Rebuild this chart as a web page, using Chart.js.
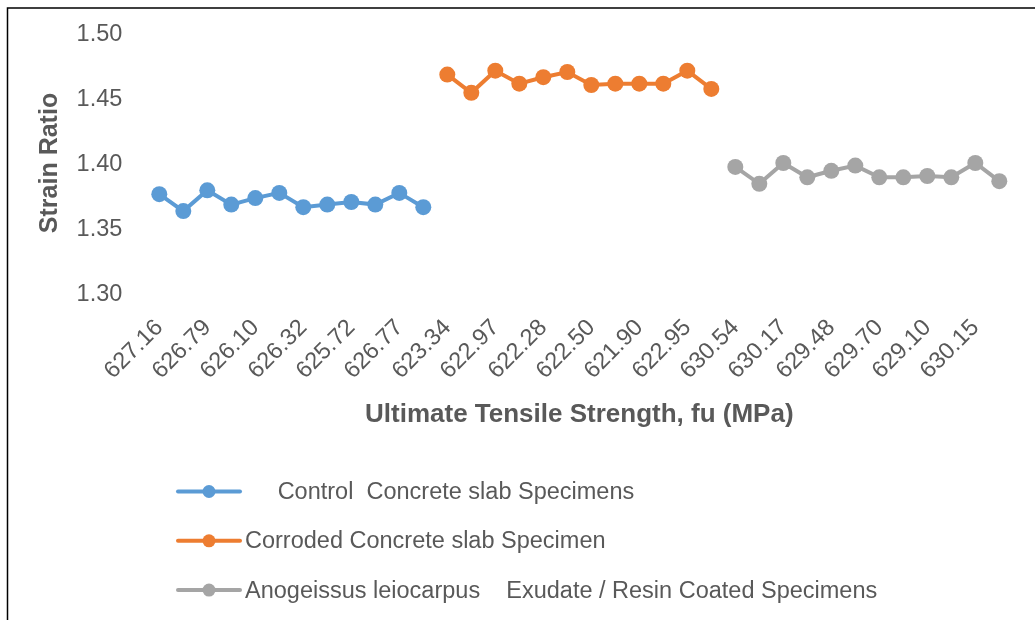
<!DOCTYPE html>
<html>
<head>
<meta charset="utf-8">
<script src="https://cdn.jsdelivr.net/npm/chart.js@4.4.1/dist/chart.umd.min.js"></script>
<style>
  html, body { margin: 0; padding: 0; background: #ffffff; }
  #wrap { position: relative; width: 1035px; height: 620px; }
  canvas { display: block; }
</style>
</head>
<body>
<div id="wrap"><canvas id="c" width="1035" height="620"></canvas></div>
<script>
// ---- Data ----
const tickLabels = ['627.16', '626.79', '626.10', '626.32', '625.72', '626.77',
                    '623.34', '622.97', '622.28', '622.50', '621.90', '622.95',
                    '630.54', '630.17', '629.48', '629.70', '629.10', '630.15'];
// every second category carries a printed label; the in-between ones are unlabeled
const categories = tickLabels.flatMap(t => [t, '']);

const controlValues  = [1.376, 1.363, 1.379, 1.368, 1.373, 1.377, 1.366, 1.368, 1.370, 1.368, 1.377, 1.366];
const corrodedValues = [1.468, 1.454, 1.471, 1.461, 1.466, 1.470, 1.460, 1.461, 1.461, 1.461, 1.471, 1.457];
const coatedValues   = [1.397, 1.384, 1.400, 1.389, 1.394, 1.398, 1.389, 1.389, 1.390, 1.389, 1.400, 1.386];

const seriesNames = ['     Control  Concrete slab Specimens',
                     'Corroded Concrete slab Specimen',
                     'Anogeissus leiocarpus    Exudate / Resin Coated Specimens'];
const seriesColors = ['#5B9BD5', '#ED7D31', '#A5A5A5'];

const yMin = 1.30, yMax = 1.50, yStep = 0.05;
const xTitle = 'Ultimate Tensile Strength, fu (MPa)';
const yTitle = 'Strain Ratio';

// place each series in its own block of categories
const n = controlValues.length;
const blank = k => Array(k).fill(null);
const seriesData = [
  [...controlValues, ...blank(2 * n)],
  [...blank(n), ...corrodedValues, ...blank(n)],
  [...blank(2 * n), ...coatedValues]
];

const FONT = "'Liberation Sans', Arial, sans-serif";
const TXT = '#595959';

const borderPlugin = {
  id: 'frame',
  beforeDraw(chart) {
    const ctx = chart.ctx;
    ctx.save();
    ctx.fillStyle = '#ffffff';
    ctx.fillRect(0, 0, chart.width, chart.height);
    ctx.strokeStyle = '#000000';
    ctx.lineWidth = 1.5;
    ctx.beginPath();
    ctx.moveTo(7.5, chart.height);
    ctx.lineTo(7.5, 8);
    ctx.lineTo(chart.width, 8);
    ctx.stroke();
    ctx.restore();
  }
};

const legendPlugin = {
  id: 'stackedLegend',
  afterDraw(chart, args, opts) {
    const ctx = chart.ctx;
    ctx.save();
    ctx.font = opts.font;
    ctx.textBaseline = 'middle';
    ctx.textAlign = 'left';
    chart.data.datasets.forEach((ds, i) => {
      const y = opts.y0 + i * opts.dy;
      ctx.strokeStyle = ds.borderColor;
      ctx.lineWidth = 4;
      ctx.lineCap = 'round';
      ctx.beginPath();
      ctx.moveTo(opts.x0, y);
      ctx.lineTo(opts.x0 + opts.lineLen, y);
      ctx.stroke();
      ctx.fillStyle = ds.backgroundColor;
      ctx.beginPath();
      ctx.arc(opts.x0 + opts.lineLen / 2, y, 6.5, 0, Math.PI * 2);
      ctx.fill();
      ctx.fillStyle = TXT;
      ctx.fillText(ds.label, opts.textX, y + 1);
    });
    ctx.restore();
  }
};

new Chart(document.getElementById('c'), {
  type: 'line',
  data: {
    labels: categories,
    datasets: seriesData.map((d, i) => ({
      label: seriesNames[i],
      data: d,
      borderColor: seriesColors[i],
      backgroundColor: seriesColors[i],
      pointBackgroundColor: seriesColors[i],
      pointBorderColor: seriesColors[i],
      borderWidth: 4,
      pointRadius: 8,
      pointBorderWidth: 0,
      spanGaps: false,
      tension: 0
    }))
  },
  options: {
    responsive: false,
    animation: false,
    devicePixelRatio: 1,
    layout: { padding: { top: 33, left: 0, right: 23.7, bottom: 190 } },
    plugins: {
      legend: { display: false },
      tooltip: { enabled: false },
      stackedLegend: { x0: 178, lineLen: 62, textX: 245, y0: 491.5, dy: 49.3,
                       font: "23.5px " + FONT }
    },
    scales: {
      x: {
        type: 'category',
        offset: true,
        grid: { display: false, drawTicks: false },
        border: { display: false },
        ticks: {
          autoSkip: false, maxRotation: 45, minRotation: 45,
          padding: 21, color: TXT,
          font: { family: FONT, size: 23.5 }
        },
        title: {
          display: true, text: xTitle, color: TXT,
          font: { family: FONT, size: 26, weight: 'bold' },
          padding: { top: 0, bottom: 0 }
        },
        afterFit(scale) {
          scale.height = 137;
          scale.paddingLeft = 0;
          scale.paddingRight = 0;
        }
      },
      y: {
        min: yMin, max: yMax,
        grid: { display: false, drawTicks: false },
        border: { display: false },
        ticks: {
          stepSize: yStep, padding: 25, color: TXT, labelOffset: 2,
          font: { family: FONT, size: 23.5 },
          callback: v => Number(v).toFixed(2)
        },
        title: {
          display: true, text: yTitle, color: TXT,
          font: { family: FONT, size: 25, weight: 'bold' },
          padding: { top: 35, bottom: 0 }
        },
        afterFit(scale) {
          scale.width = 147.3;
          scale.paddingTop = 0;
          scale.paddingBottom = 0;
        }
      }
    }
  },
  plugins: [borderPlugin, legendPlugin]
});
</script>
</body>
</html>
